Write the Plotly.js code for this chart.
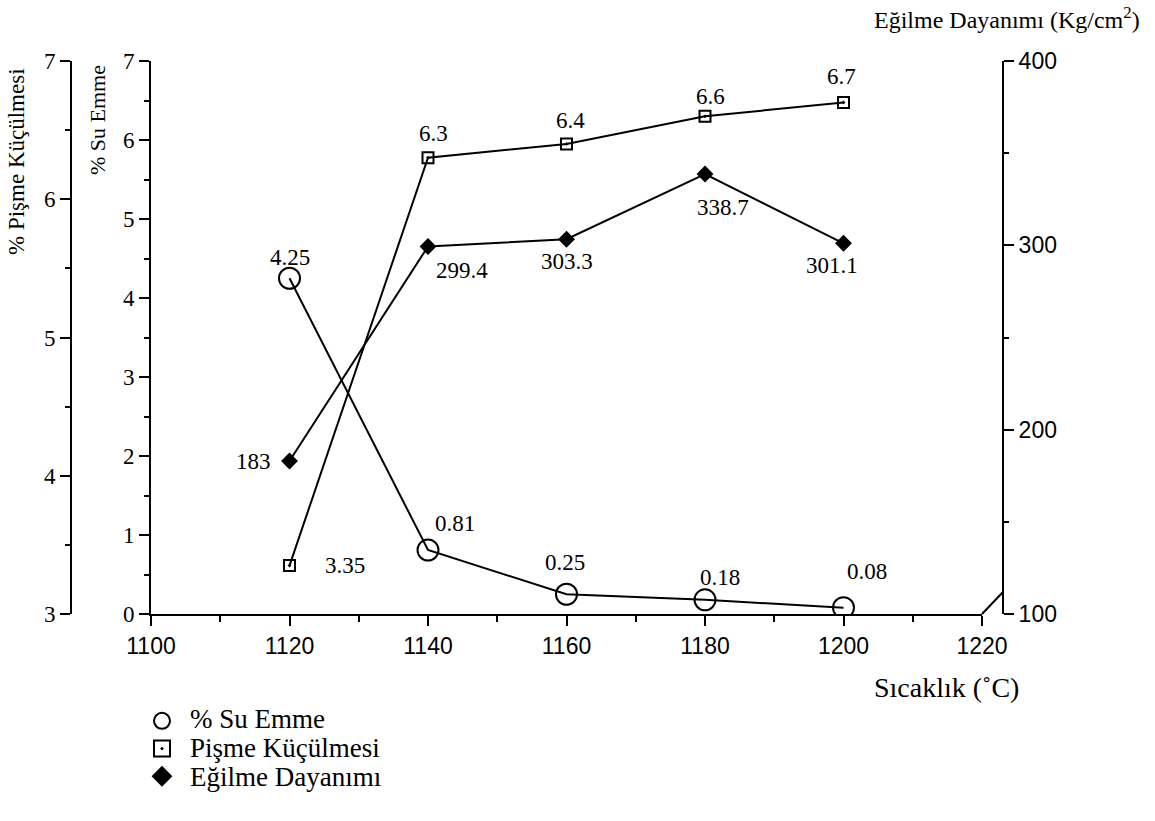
<!DOCTYPE html>
<html>
<head>
<meta charset="utf-8">
<script src="https://cdn.plot.ly/plotly-3.0.1.min.js"></script>
<style>html,body{margin:0;padding:0;background:#fff;}#chart{width:1155px;height:821px;}</style>
</head>
<body>
<div id="chart"></div>
<script>
// ---- data ----
const temperatures = [1120, 1140, 1160, 1180, 1200];
const suEmme = [4.25, 0.81, 0.25, 0.18, 0.08];
const pismeKuculmesi = [3.35, 6.3, 6.4, 6.6, 6.7];
const egilmeDayanimi = [183, 299.4, 303.3, 338.7, 301.1];
const seriesNames = ['% Su Emme', 'Pişme Küçülmesi', 'Eğilme Dayanımı'];
const xTicks = [1100, 1120, 1140, 1160, 1180, 1200, 1220];

// label offsets in pixels (style only)
const suOff = [[0,-21],[27,-27],[-2,-32],[15,-22],[23,-36]];
const piOff = [[55,0],[5,-24],[4,-23],[5,-20],[-2,-26]];
const egOff = [[-36,0],[34,24],[0,22],[18,33],[-12,22]];

// ---- geometry helpers ----
const W = 1155, H = 821;
const mL = 71, mR = 152, mT = 42, mB = 207;
const pw = W - mL - mR, ph = H - mT - mB;
const px = x => (x - mL) / pw;
const py = y => (H - mB - y) / ph;

const serif = 'Liberation Serif';
const sans = 'Liberation Sans';
const black = '#000';

const traces = [
  {x: temperatures, y: suEmme, xaxis: 'x', yaxis: 'y', mode: 'lines+markers', showlegend: false,
   line: {color: black, width: 2}, marker: {symbol: 'circle-open', size: 21, color: black, line: {width: 2, color: black}}},
  {x: temperatures, y: pismeKuculmesi, xaxis: 'x', yaxis: 'y2', mode: 'lines+markers', showlegend: false,
   line: {color: black, width: 2}, marker: {symbol: 'square-open-dot', size: 11, color: black, line: {width: 2, color: black}}},
  {x: temperatures, y: egilmeDayanimi, xaxis: 'x', yaxis: 'y3', mode: 'lines+markers', showlegend: false,
   line: {color: black, width: 2}, marker: {symbol: 'diamond', size: 13, color: black}},
  // legend symbols (names drawn as annotations for tighter spacing)
  {x: [null], y: [null], mode: 'markers', name: ' ', marker: {symbol: 'circle-open', size: 16, color: black, line: {width: 2}}},
  {x: [null], y: [null], mode: 'markers', name: ' ', marker: {symbol: 'square-open-dot', size: 16, color: black, line: {width: 2}}},
  {x: [null], y: [null], mode: 'markers', name: ' ', marker: {symbol: 'diamond', size: 17, color: black}}
];

const annotations = [];
function addLabels(vals, yref, offs) {
  vals.forEach((v, i) => {
    annotations.push({x: temperatures[i], y: v, xref: 'x', yref: yref, text: String(v),
      showarrow: false, xanchor: 'center', yanchor: 'middle', xshift: offs[i][0], yshift: -offs[i][1],
      font: {family: serif, size: 23, color: black}});
  });
}
addLabels(suEmme, 'y', suOff);
addLabels(pismeKuculmesi, 'y2', piOff);
addLabels(egilmeDayanimi, 'y3', egOff);

// legend texts
const legendRowsY = [719, 748, 777];
seriesNames.forEach((n, i) => {
  annotations.push({xref: 'paper', yref: 'paper', x: px(188), y: py(legendRowsY[i]), xanchor: 'left', yanchor: 'middle',
    text: n, showarrow: false, font: {family: serif, size: 27, color: black}});
});

annotations.push(
  {xref: 'paper', yref: 'paper', x: px(16), y: py(162), xanchor: 'center', yanchor: 'middle',
   text: '% Pişme Küçülmesi', textangle: -90, showarrow: false, font: {family: serif, size: 23, color: black}},
  {xref: 'paper', yref: 'paper', x: px(97), y: py(120), xanchor: 'center', yanchor: 'middle',
   text: '% Su Emme', textangle: -90, showarrow: false, font: {family: serif, size: 22, color: black}},
  {xref: 'paper', yref: 'paper', x: px(1007), y: py(18), xanchor: 'center', yanchor: 'middle',
   text: 'Eğilme Dayanımı (Kg/cm<sup>2</sup>)', showarrow: false, font: {family: serif, size: 24, color: black}},
  {xref: 'paper', yref: 'paper', x: px(946), y: py(687), xanchor: 'center', yanchor: 'middle',
   text: 'Sıcaklık (˚C)', showarrow: false, font: {family: serif, size: 28, color: black}}
);

const axisCommon = {showgrid: false, zeroline: false, showline: true, linecolor: black, linewidth: 2,
  ticks: 'outside', ticklen: 10, tickwidth: 2, tickcolor: black, automargin: false};

const layout = {
  width: W, height: H,
  margin: {l: mL, r: mR, t: mT, b: mB, pad: 0, autoexpand: false},
  paper_bgcolor: '#fff', plot_bgcolor: 'rgba(0,0,0,0)',
  showlegend: true,
  legend: {x: px(142), y: py(702), xanchor: 'left', yanchor: 'top', bgcolor: 'rgba(0,0,0,0)',
    font: {family: serif, size: 19, color: black}, itemwidth: 30, tracegroupgap: 0},
  xaxis: Object.assign({}, axisCommon, {domain: [px(151), px(982)], range: [1100, 1220], anchor: 'y',
    tickmode: 'array', tickvals: xTicks,
    minor: {dtick: 10, ticklen: 6, tickwidth: 2, tickcolor: black, ticks: 'outside'},
    tickfont: {family: sans, size: 23, color: black}}),
  yaxis: Object.assign({}, axisCommon, {domain: [0, py(61)], range: [0, 7], anchor: 'x', dtick: 1,
    minor: {dtick: 0.5, ticklen: 5, tickwidth: 2, tickcolor: black, ticks: 'outside'},
    tickfont: {family: serif, size: 23, color: black}}),
  yaxis2: Object.assign({}, axisCommon, {domain: [0, py(66)], range: [3, 7], anchor: 'free', position: 0,
    overlaying: 'y', side: 'left', dtick: 1,
    minor: {dtick: 0.5, ticklen: 5, tickwidth: 2, tickcolor: black, ticks: 'outside'},
    tickfont: {family: serif, size: 23, color: black}}),
  yaxis3: Object.assign({}, axisCommon, {domain: [py(592), 1], range: [100, 400], anchor: 'free', position: 1,
    overlaying: 'y', side: 'right', dtick: 100,
    minor: {dtick: 50, ticklen: 5, tickwidth: 2, tickcolor: black, ticks: 'outside'},
    tickfont: {family: sans, size: 23, color: black}}),
  shapes: [
    {type: 'line', xref: 'paper', yref: 'paper', x0: px(982), y0: py(614), x1: px(1003), y1: py(592),
     line: {color: black, width: 2}}
  ],
  annotations: annotations
};

Plotly.newPlot('chart', traces, layout, {displayModeBar: false, staticPlot: true});
</script>
</body>
</html>
